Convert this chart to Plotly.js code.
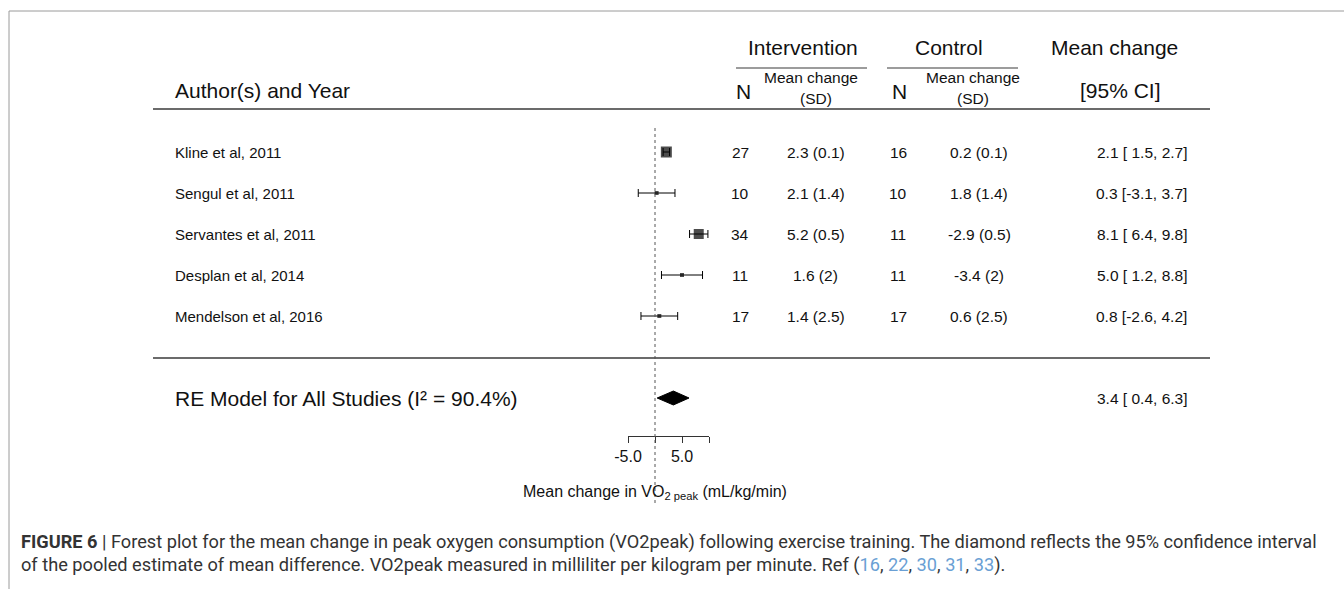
<!DOCTYPE html>
<html><head><meta charset="utf-8">
<script src="https://cdn.plot.ly/plotly-3.0.1.min.js"></script>
<style>html,body{margin:0;padding:0;background:#fff;}#chart{width:1344px;height:589px;}</style>
</head><body><div id="chart"></div>
<script>
// ---- data ----
const studies = ["Kline et al, 2011","Sengul et al, 2011","Servantes et al, 2011","Desplan et al, 2014","Mendelson et al, 2016"];
const intN = [27,10,34,11,17];
const intMean = [2.3,2.1,5.2,1.6,1.4];
const intSD = [0.1,1.4,0.5,2,2.5];
const ctlN = [16,10,11,11,17];
const ctlMean = [0.2,1.8,-2.9,-3.4,0.6];
const ctlSD = [0.1,1.4,0.5,2,2.5];
const estimate = [2.1,0.3,8.1,5.0,0.8];
const ciLower = [1.5,-3.1,6.4,1.2,-2.6];
const ciUpper = [2.7,3.7,9.8,8.8,4.2];
const pooledEst = 3.4, pooledLower = 0.4, pooledUpper = 6.3;
const i2 = 90.4;
const axisTickVals = [-5,5];
const axisTickText = ["-5.0","5.0"];
const refs = [16,22,30,31,33];

// ---- styles / layout geometry ----
const markerSizes = [11,4,10,4,4];
const W = 1344, H = 589;
const zeroPx = 655, pxPerUnit = 5.4;
const row0Px = 152, rowStep = 41;
const pooledRow = 6;
const FONT = '"Liberation Sans", Arial, sans-serif';
const px = x => x / W;
const py = y => 1 - y / H;
const xAt = p => (p - zeroPx) / pxPerUnit;
const rowAt = p => (p - row0Px) / rowStep;
const pad = v => (v >= 0 ? ' ' : '') + v.toFixed(1);

const rows = studies.map((_, i) => i);

const traces = [
  {
    x: estimate, y: rows, type: 'scatter', mode: 'markers',
    marker: {symbol: 'square', size: markerSizes, color: '#000', line: {width: 0}},
    error_x: {type: 'data', symmetric: false,
      array: estimate.map((e, i) => ciUpper[i] - e),
      arrayminus: estimate.map((e, i) => e - ciLower[i]),
      color: '#000', thickness: 1, width: 4},
    hoverinfo: 'skip'
  },
  {
    x: [pooledLower, pooledEst, pooledUpper, pooledEst, pooledLower],
    y: [pooledRow, pooledRow - 0.17, pooledRow, pooledRow + 0.17, pooledRow],
    type: 'scatter', mode: 'lines', fill: 'toself', fillcolor: '#000',
    line: {color: '#000', width: 1}, hoverinfo: 'skip'
  },
  { x: [0], y: [pooledRow], xaxis: 'x2', yaxis: 'y', type: 'scatter', mode: 'markers',
    marker: {opacity: 0}, hoverinfo: 'skip' }
];

const ann = [];
function T(text, x, y, size, anchor, opts) {
  ann.push(Object.assign({text, x: px(x), y: py(y), xref: 'paper', yref: 'paper',
    xanchor: anchor || 'center', yanchor: 'middle', showarrow: false,
    font: {family: FONT, size, color: '#111'}}, opts || {}));
}
function R(text, x, row, size, anchor) {
  ann.push({text, x: px(x), y: row, xref: 'paper', yref: 'y',
    xanchor: anchor || 'center', yanchor: 'middle', showarrow: false,
    font: {family: FONT, size, color: '#111'}});
}

// headers
T('Author(s) and Year', 173, 90, 21, 'left');
T('Intervention', 803, 48, 21);
T('Control', 949, 48, 21);
T('Mean change', 1114, 48, 21);
T('[95% CI]', 1120, 90, 21);
T('N', 743, 91, 21);
T('N', 900, 91, 21);
T('Mean change', 811, 77, 15.5);
T('(SD)', 816, 98, 15.5);
T('Mean change', 973, 77, 15.5);
T('(SD)', 973, 98, 15.5);

// study rows
studies.forEach((s, i) => {
  R(s, 173, i, 15, 'left');
  R(String(intN[i]), 740, i, 15.5);
  R(intMean[i].toFixed(1) + ' (' + intSD[i] + ')', 816, i, 15.5);
  R(String(ctlN[i]), 898, i, 15.5);
  R(ctlMean[i].toFixed(1) + ' (' + ctlSD[i] + ')', 979, i, 15.5);
  R(estimate[i].toFixed(1) + ' [' + pad(ciLower[i]) + ', ' + ciUpper[i].toFixed(1) + ']', 1189, i, 15.5, 'right');
});
R('RE Model for All Studies (I\u00b2 = ' + i2.toFixed(1) + '%)', 173, pooledRow, 21, 'left');
R(pooledEst.toFixed(1) + ' [' + pad(pooledLower) + ', ' + pooledUpper.toFixed(1) + ']', 1189, pooledRow, 15.5, 'right');

// axis title
T('Mean change in VO<sub>2 peak</sub> (mL/kg/min)', 655, 492, 16);

// caption
const CAPF = 'Roboto, "Liberation Sans", sans-serif';
const blue = s => '<span style="color:#6a9fd4">' + s + '</span>';
T('<b>FIGURE 6</b> | Forest plot for the mean change in peak oxygen consumption (VO2peak) following exercise training. The diamond reflects the 95% confidence interval',
  19, 542, 18.2, 'left', {font: {family: CAPF, size: 18.2, color: '#333'}});
T('of the pooled estimate of mean difference. VO2peak measured in milliliter per kilogram per minute. Ref (' +
  refs.map(blue).join(', ') + ').',
  19, 565, 18.2, 'left', {font: {family: CAPF, size: 18.2, color: '#333'}});

const line = (x0, y0, x1, y1, color, width, dash) => ({type: 'line', xref: 'paper', yref: 'paper',
  x0: px(x0), x1: px(x1), y0: py(y0), y1: py(y1), line: {color, width, dash: dash || 'solid'}});

const shapes = [
  line(9, 11, W + 2, 11, '#9a9a9a', 1),
  line(9, 11, 9, H + 2, '#9a9a9a', 1),
  line(153, 109, 1210, 109, '#3a3a3a', 1.5),
  line(153, 358, 1210, 358, '#3a3a3a', 1.5),
  line(736, 68, 867, 68, '#3a3a3a', 1.2),
  line(887, 68, 1018, 68, '#3a3a3a', 1.2),
  {type: 'line', xref: 'x', yref: 'paper', x0: 0, x1: 0, y0: py(128), y1: py(503),
   line: {color: '#555', width: 1, dash: 'dot'}}
];

const layout = {
  width: W, height: H, margin: {l: 0, r: 0, t: 0, b: 0, pad: 0},
  paper_bgcolor: '#fff', plot_bgcolor: 'rgba(0,0,0,0)', showlegend: false,
  xaxis: {range: [xAt(0), xAt(W)], visible: false, fixedrange: true},
  yaxis: {range: [rowAt(H), rowAt(0)], visible: false, fixedrange: true},
  xaxis2: {domain: [px(zeroPx - 5 * pxPerUnit), px(zeroPx + 10 * pxPerUnit)], range: [-5, 10],
    anchor: 'free', position: py(436), side: 'bottom', showline: true, linecolor: '#333', linewidth: 1,
    ticks: 'outside', ticklen: 6, tickwidth: 1, tickcolor: '#333', tickvals: axisTickVals, ticktext: axisTickText,
    minor: {tick0: 0, dtick: 5, ticks: 'outside', ticklen: 6, tickwidth: 1, tickcolor: '#333', showgrid: false},
    tickfont: {family: FONT, size: 16, color: '#111'}, showgrid: false, zeroline: false, fixedrange: true},
  annotations: ann, shapes: shapes,
  font: {family: FONT}
};

Plotly.newPlot('chart', traces, layout, {displayModeBar: false, staticPlot: true});
</script></body></html>
